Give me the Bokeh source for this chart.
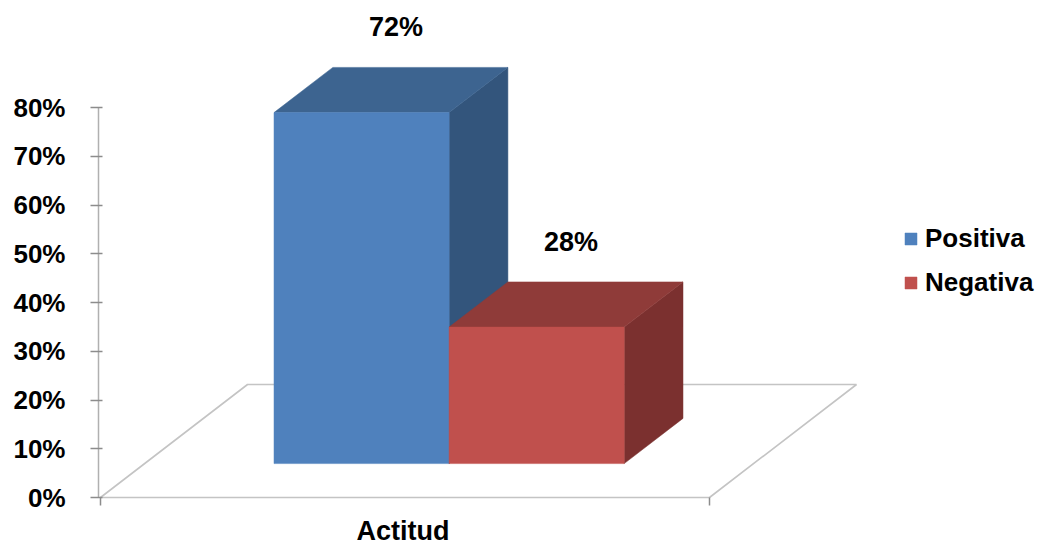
from bokeh.plotting import figure
from bokeh.models import Range1d, FixedTicker, PrintfTickFormatter, Legend, LegendItem
from bokeh.core.properties import value
from bokeh.embed import file_html
from bokeh.resources import INLINE

# ---------------- data ----------------
category = "Actitud"
series_names = ["Positiva", "Negativa"]
series_values = [72, 28]
label_texts = ["72%", "28%"]
front_colors = ["#4F81BD", "#C0504D"]
top_colors = ["#3D6490", "#8F3B39"]
side_colors = ["#33557C", "#7B302F"]
y_ticks = [0, 10, 20, 30, 40, 50, 60, 70, 80]

# ---------------- layout ----------------
W, H = 1058, 546
LEFT = 98
PX_PER_UNIT = 4.875
BASE_PX = 497
FONT = "Liberation Sans"

y_start = -(H - BASE_PX) / PX_PER_UNIT
y_end = BASE_PX / PX_PER_UNIT

p = figure(width=W, height=H, x_range=Range1d(LEFT, W), y_range=Range1d(y_start, y_end),
           output_backend="svg", toolbar_location=None, x_axis_location=None,
           min_border_left=LEFT, min_border_right=0, min_border_top=0, min_border_bottom=0)
p.outline_line_color = None
p.grid.visible = False
p.background_fill_color = "white"
p.border_fill_color = "white"

# y axis
ax = p.yaxis[0]
ax.ticker = FixedTicker(ticks=y_ticks)
ax.formatter = PrintfTickFormatter(format="%d%%")
ax.bounds = (y_ticks[0], y_ticks[-1])
ax.axis_line_color = "#b0b0b0"
ax.axis_line_width = 1.5
ax.major_tick_line_color = "#8c8c8c"
ax.major_tick_line_width = 1.5
ax.major_tick_out = 8
ax.major_tick_in = 4
ax.minor_tick_line_color = None
ax.major_label_standoff = 25
ax.major_label_text_font = FONT
ax.major_label_text_font_style = "bold"
ax.major_label_text_font_size = "26px"
ax.major_label_text_color = "black"

# 3D projection
DEPTH_DX = 147.0
DEPTH_DY = 113.0 / PX_PER_UNIT
CAT_X0, CAT_X1 = 100.0, 709.0
CLUSTER_FRAC = 0.575
Z0, Z1 = 0.3, 0.7


def proj(x, v, z):
    return x + z * DEPTH_DX, v + z * DEPTH_DY


def poly(pts):
    xs = [q[0] for q in pts]
    ys = [q[1] for q in pts]
    return xs, ys


# floor
fx, fy = poly([proj(CAT_X0, 0, 0), proj(CAT_X1, 0, 0), proj(CAT_X1, 0, 1), proj(CAT_X0, 0, 1)])
p.patch(fx, fy, fill_color=None, line_color="#c4c4c4", line_width=1.6)
# category axis ticks
p.segment(x0=[CAT_X0, CAT_X1], y0=[0, 0], x1=[CAT_X0, CAT_X1], y1=[-8 / PX_PER_UNIT] * 2,
          line_color="#8c8c8c", line_width=1.5)

cat_center = (CAT_X0 + CAT_X1) / 2
cluster_w = (CAT_X1 - CAT_X0) * CLUSTER_FRAC
bw = cluster_w / len(series_values)
cl_left = cat_center - cluster_w / 2

legend_items = []
for i, (name, val) in enumerate(zip(series_names, series_values)):
    xa = cl_left + i * bw
    xb = xa + bw
    front = poly([proj(xa, 0, Z0), proj(xb, 0, Z0), proj(xb, val, Z0), proj(xa, val, Z0)])
    top = poly([proj(xa, val, Z0), proj(xb, val, Z0), proj(xb, val, Z1), proj(xa, val, Z1)])
    side = poly([proj(xb, 0, Z0), proj(xb, 0, Z1), proj(xb, val, Z1), proj(xb, val, Z0)])
    p.patch(*side, fill_color=side_colors[i], line_color=side_colors[i], line_width=0.5)
    p.patch(*top, fill_color=top_colors[i], line_color=top_colors[i], line_width=0.5)
    r = p.patch(*front, fill_color=front_colors[i], line_color=front_colors[i], line_width=0.5)
    legend_items.append(LegendItem(label=name, renderers=[r]))
    lx, ly = proj((xa + xb) / 2 + 5, val, 0.5)
    p.text(x=[lx], y=[ly], text=[label_texts[i]], y_offset=-63,
           text_font=value(FONT), text_font_style="bold", text_font_size="27px",
           text_align="center", text_baseline="middle", text_color="black")

# category label
p.text(x=[cat_center - 2], y=[0], text=[category], y_offset=33,
       text_font=value(FONT), text_font_style="bold", text_font_size="27px",
       text_align="center", text_baseline="middle", text_color="black")

legend = Legend(items=legend_items, location=(805, 248), orientation="vertical",
                glyph_width=15, glyph_height=15, label_standoff=7, spacing=13,
                padding=0, margin=0, border_line_color=None, background_fill_alpha=0,
                label_text_font=FONT, label_text_font_style="bold",
                label_text_font_size="26px", label_height=30, label_text_color="black")
p.add_layout(legend)

open("out.html", "w").write(file_html(p, INLINE))
